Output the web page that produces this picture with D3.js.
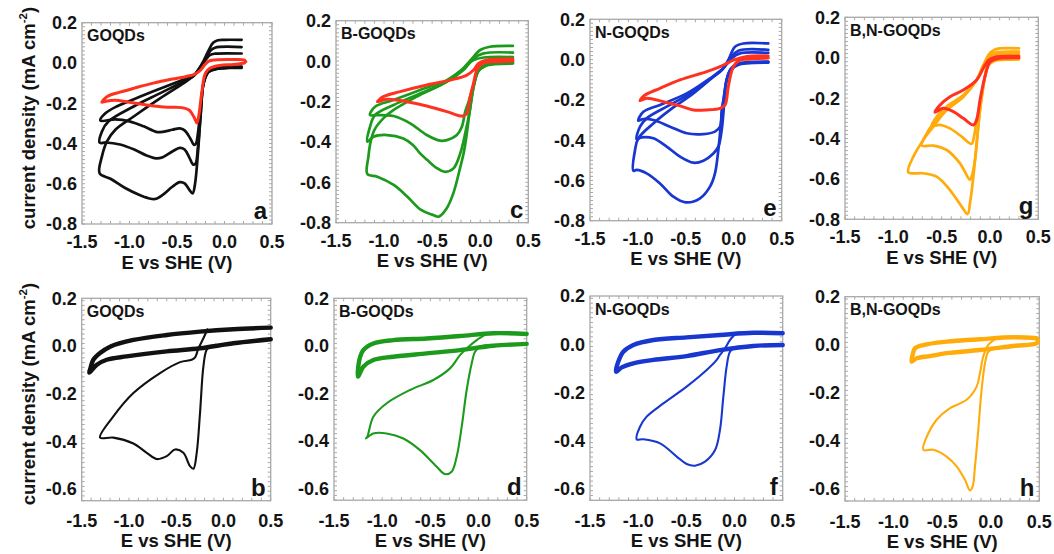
<!DOCTYPE html>
<html><head><meta charset="utf-8">
<script src="https://cdn.jsdelivr.net/npm/d3@7"></script>
<style>
body{margin:0;background:#fff}
svg text{font-family:"Liberation Sans",Arial,sans-serif;font-weight:bold;fill:#141414}
</style>
</head><body>
<svg id="chart" width="1054" height="554"></svg>
<script>
// ---------------- tick labels ----------------
const xTicks = [-1.5, -1.0, -0.5, 0.0, 0.5];
const yTicksTop = [0.2, 0.0, -0.2, -0.4, -0.6, -0.8];
const yTicksBottom = [0.2, 0.0, -0.2, -0.4, -0.6];
const panelNames = ["GOQDs", "B-GOQDs", "N-GOQDs", "B,N-GOQDs"];
const panelLetters = ["a", "c", "e", "g", "b", "d", "f", "h"];

// ---------------- panel a (GOQDs, black + red) ----------------
const a3Cath = [[0.18,-0.025],[0.05,-0.025],[-0.08,-0.03],[-0.17,-0.045],[-0.22,-0.1],[-0.25,-0.25],[-0.28,-0.45],[-0.31,-0.6],[-0.335,-0.648],[-0.37,-0.63],[-0.42,-0.598],[-0.47,-0.592],[-0.55,-0.615],[-0.65,-0.655],[-0.73,-0.676],[-0.8,-0.672],[-0.9,-0.655],[-1.05,-0.62],[-1.2,-0.575],[-1.314,-0.549]];
const a3Anod = [[-1.314,-0.549],[-1.29,-0.464],[-1.237,-0.39],[-1.149,-0.332],[-0.956,-0.266],[-0.675,-0.175],[-0.43,-0.1],[-0.325,-0.064],[-0.27,-0.03],[-0.22,0.01],[-0.17,0.06],[-0.12,0.1],[-0.07,0.113],[0.0,0.115],[0.18,0.115]];
const a2Cath = [[0.18,-0.02],[0.05,-0.022],[-0.08,-0.028],[-0.17,-0.045],[-0.22,-0.1],[-0.25,-0.25],[-0.28,-0.42],[-0.305,-0.5],[-0.33,-0.505],[-0.37,-0.47],[-0.42,-0.43],[-0.47,-0.422],[-0.55,-0.44],[-0.65,-0.468],[-0.72,-0.474],[-0.82,-0.46],[-0.95,-0.43],[-1.1,-0.405],[-1.25,-0.395],[-1.314,-0.396]];
const a2Anod = [[-1.314,-0.396],[-1.29,-0.34],[-1.22,-0.29],[-0.956,-0.216],[-0.675,-0.15],[-0.43,-0.092],[-0.325,-0.064],[-0.27,-0.03],[-0.2,0.02],[-0.15,0.06],[-0.1,0.076],[0.18,0.079]];
const a1Cath = [[0.18,-0.018],[0.05,-0.02],[-0.08,-0.026],[-0.17,-0.045],[-0.22,-0.1],[-0.25,-0.22],[-0.28,-0.35],[-0.3,-0.4],[-0.32,-0.407],[-0.36,-0.375],[-0.42,-0.335],[-0.47,-0.325],[-0.55,-0.332],[-0.65,-0.342],[-0.72,-0.342],[-0.85,-0.315],[-1.0,-0.29],[-1.15,-0.28],[-1.307,-0.286]];
const a1Anod = [[-1.307,-0.286],[-1.254,-0.25],[-1.13,-0.215],[-0.886,-0.167],[-0.605,-0.114],[-0.395,-0.076],[-0.325,-0.064],[-0.27,-0.035],[-0.2,0.015],[-0.15,0.04],[-0.1,0.046],[0.18,0.047]];
const a0Cath = [[0.21,0.0],[0.1,-0.008],[-0.05,-0.012],[-0.15,-0.025],[-0.2,-0.05],[-0.24,-0.15],[-0.27,-0.26],[-0.29,-0.298],[-0.32,-0.27],[-0.37,-0.235],[-0.45,-0.222],[-0.6,-0.22],[-0.8,-0.21],[-1.0,-0.195],[-1.15,-0.185],[-1.25,-0.19],[-1.29,-0.195]];
const a0Anod = [[-1.29,-0.195],[-1.23,-0.165],[-1.1,-0.145],[-0.95,-0.125],[-0.75,-0.1],[-0.55,-0.08],[-0.4,-0.067],[-0.31,-0.055],[-0.25,-0.035],[-0.21,-0.01],[-0.17,0.008],[-0.1,0.015],[0.1,0.017],[0.21,0.014],[0.225,0.006]];

// ---------------- panel c (B-GOQDs, green + red) ----------------
const c3Cath = [[0.34,-0.012],[0.15,-0.015],[0.05,-0.025],[-0.02,-0.05],[-0.07,-0.13],[-0.11,-0.25],[-0.14,-0.36],[-0.17,-0.45],[-0.21,-0.53],[-0.28,-0.655],[-0.35,-0.73],[-0.43,-0.77],[-0.5,-0.76],[-0.62,-0.735],[-0.76,-0.67],[-0.9,-0.613],[-1.07,-0.572],[-1.174,-0.559]];
const c3Anod = [[-1.174,-0.559],[-1.163,-0.473],[-1.14,-0.4],[-1.1,-0.34],[-1.0,-0.28],[-0.9,-0.242],[-0.66,-0.176],[-0.38,-0.11],[-0.21,-0.052],[-0.1,0.005],[0.0,0.055],[0.1,0.071],[0.34,0.075]];
const c2Cath = [[0.34,-0.01],[0.15,-0.013],[0.05,-0.022],[-0.02,-0.05],[-0.07,-0.13],[-0.11,-0.25],[-0.156,-0.358],[-0.208,-0.457],[-0.278,-0.531],[-0.365,-0.548],[-0.45,-0.53],[-0.55,-0.49],[-0.625,-0.457],[-0.7,-0.415],[-0.8,-0.383],[-0.97,-0.366],[-1.11,-0.374],[-1.174,-0.399]];
const c2Anod = [[-1.174,-0.399],[-1.146,-0.325],[-1.094,-0.267],[-0.9,-0.217],[-0.625,-0.16],[-0.347,-0.102],[-0.174,-0.044],[-0.069,0.013],[0.035,0.038],[0.34,0.042]];
const c1Cath = [[0.34,-0.008],[0.15,-0.01],[0.05,-0.02],[-0.02,-0.045],[-0.07,-0.12],[-0.12,-0.2],[-0.156,-0.25],[-0.191,-0.325],[-0.243,-0.366],[-0.347,-0.391],[-0.417,-0.394],[-0.556,-0.366],[-0.729,-0.308],[-0.903,-0.272],[-1.076,-0.267],[-1.146,-0.267]];
const c1Anod = [[-1.146,-0.267],[-1.094,-0.226],[-0.903,-0.193],[-0.625,-0.143],[-0.347,-0.094],[-0.174,-0.036],[-0.069,0.005],[0.035,0.018],[0.34,0.02]];
const c0Cath = [[0.34,0.0],[0.15,-0.003],[0.07,-0.005],[0.0,-0.02],[-0.035,-0.044],[-0.07,-0.11],[-0.104,-0.176],[-0.139,-0.259],[-0.17,-0.27],[-0.208,-0.272],[-0.347,-0.25],[-0.556,-0.222],[-0.764,-0.201],[-0.972,-0.189],[-1.069,-0.201]];
const c0Anod = [[-1.069,-0.201],[-1.007,-0.176],[-0.833,-0.151],[-0.556,-0.118],[-0.313,-0.094],[-0.139,-0.069],[-0.069,-0.044],[-0.017,-0.012],[0.07,0.005],[0.34,0.01]];

// ---------------- panel e (N-GOQDs, blue + red) ----------------
const e3Cath = [[0.36,-0.015],[0.15,-0.018],[0.05,-0.025],[-0.03,-0.05],[-0.074,-0.101],[-0.126,-0.283],[-0.161,-0.449],[-0.196,-0.565],[-0.248,-0.631],[-0.352,-0.689],[-0.502,-0.709],[-0.63,-0.681],[-0.77,-0.615],[-0.909,-0.565],[-1.013,-0.548],[-1.048,-0.552]];
const e3Anod = [[-1.048,-0.552],[-1.03,-0.449],[-0.996,-0.391],[-0.839,-0.317],[-0.665,-0.25],[-0.422,-0.168],[-0.213,-0.085],[-0.126,-0.052],[-0.057,-0.002],[0.013,0.064],[0.1,0.08],[0.36,0.08]];
const e2Cath = [[0.36,-0.013],[0.15,-0.016],[0.05,-0.022],[-0.03,-0.05],[-0.074,-0.1],[-0.1,-0.22],[-0.126,-0.35],[-0.161,-0.432],[-0.213,-0.466],[-0.317,-0.502],[-0.422,-0.512],[-0.561,-0.482],[-0.7,-0.432],[-0.839,-0.391],[-0.961,-0.386],[-1.013,-0.396]];
const e2Anod = [[-1.013,-0.396],[-0.978,-0.333],[-0.909,-0.292],[-0.665,-0.225],[-0.422,-0.159],[-0.213,-0.085],[-0.109,-0.043],[-0.039,0.006],[0.048,0.044],[0.36,0.048]];
const e1Cath = [[0.36,-0.01],[0.15,-0.013],[0.05,-0.02],[-0.03,-0.045],[-0.074,-0.1],[-0.1,-0.18],[-0.126,-0.25],[-0.143,-0.333],[-0.196,-0.358],[-0.317,-0.37],[-0.491,-0.366],[-0.665,-0.333],[-0.839,-0.3],[-0.943,-0.295],[-0.996,-0.303]];
const e1Anod = [[-0.996,-0.303],[-0.943,-0.259],[-0.77,-0.225],[-0.491,-0.168],[-0.248,-0.093],[-0.109,-0.043],[-0.022,0.006],[0.065,0.031],[0.36,0.033]];
const e0Cath = [[0.36,0.008],[0.15,0.002],[0.065,-0.003],[-0.004,-0.035],[-0.057,-0.134],[-0.091,-0.225],[-0.143,-0.242],[-0.283,-0.25],[-0.422,-0.25],[-0.561,-0.23],[-0.735,-0.209],[-0.909,-0.192],[-0.978,-0.204]];
const e0Anod = [[-0.978,-0.204],[-0.926,-0.176],[-0.77,-0.143],[-0.561,-0.101],[-0.283,-0.06],[-0.143,-0.035],[-0.074,-0.019],[-0.004,-0.003],[0.135,0.015],[0.36,0.018]];

// ---------------- panel g (B,N-GOQDs, orange + red) ----------------
const g3Cath = [[0.3,-0.008],[0.15,-0.01],[0.05,-0.015],[-0.02,-0.04],[-0.052,-0.094],[-0.103,-0.259],[-0.138,-0.424],[-0.172,-0.589],[-0.207,-0.721],[-0.231,-0.774],[-0.293,-0.737],[-0.414,-0.655],[-0.552,-0.589],[-0.69,-0.572],[-0.845,-0.567]];
const g3Anod = [[-0.845,-0.567],[-0.793,-0.49],[-0.69,-0.407],[-0.586,-0.341],[-0.448,-0.259],[-0.276,-0.193],[-0.138,-0.11],[-0.069,-0.044],[-0.017,0.013],[0.052,0.041],[0.3,0.046]];
const g2Cath = [[0.3,-0.006],[0.15,-0.008],[0.05,-0.013],[-0.02,-0.04],[-0.052,-0.094],[-0.103,-0.259],[-0.121,-0.341],[-0.155,-0.506],[-0.19,-0.589],[-0.207,-0.605],[-0.31,-0.523],[-0.448,-0.457],[-0.586,-0.435],[-0.707,-0.435]];
const g2Anod = [[-0.707,-0.435],[-0.672,-0.391],[-0.586,-0.325],[-0.448,-0.259],[-0.276,-0.193],[-0.138,-0.11],[-0.069,-0.036],[0.0,0.015],[0.086,0.028],[0.3,0.03]];
const g1Cath = [[0.3,-0.004],[0.15,-0.006],[0.05,-0.01],[-0.02,-0.035],[-0.052,-0.094],[-0.1,-0.22],[-0.138,-0.308],[-0.172,-0.407],[-0.19,-0.427],[-0.293,-0.391],[-0.414,-0.35],[-0.517,-0.333],[-0.603,-0.338]];
const g1Anod = [[-0.603,-0.338],[-0.552,-0.292],[-0.448,-0.242],[-0.276,-0.185],[-0.138,-0.11],[-0.069,-0.044],[0.0,0.003],[0.103,0.017],[0.3,0.018]];
const g0Cath = [[0.3,0.0],[0.069,-0.005],[0.0,-0.021],[-0.052,-0.094],[-0.103,-0.209],[-0.138,-0.308],[-0.172,-0.333],[-0.276,-0.3],[-0.379,-0.267],[-0.483,-0.25],[-0.569,-0.27]];
const g0Anod = [[-0.569,-0.27],[-0.517,-0.234],[-0.414,-0.193],[-0.276,-0.16],[-0.138,-0.11],[-0.069,-0.052],[-0.017,-0.013],[0.052,0.003],[0.3,0.007]];

// ---------------- bottom row: background loop (thick) + O2 loop (thin) ----------------
const bBase = [[0.5,0.077],[0.105,0.07],[-0.248,0.06],[-0.6,0.046],[-0.953,0.025],[-1.2,-0.003],[-1.306,-0.03],[-1.377,-0.058],[-1.405,-0.09],[-1.42,-0.112],[-1.34,-0.079],[-1.235,-0.058],[-1.024,-0.044],[-0.6,-0.023],[-0.248,-0.01],[0.105,0.011],[0.5,0.028]];
const bORR = [[-0.17,0.07],[-0.212,0.032],[-0.265,-0.01],[-0.3,-0.048],[-0.336,-0.058],[-0.459,-0.068],[-0.671,-0.114],[-0.953,-0.198],[-1.165,-0.296],[-1.306,-0.385],[-1.165,-0.385],[-0.953,-0.41],[-0.812,-0.449],[-0.706,-0.475],[-0.6,-0.463],[-0.512,-0.435],[-0.424,-0.449],[-0.354,-0.505],[-0.318,-0.516],[-0.283,-0.449],[-0.248,-0.282],[-0.212,-0.086],[-0.177,-0.016],[-0.124,0.0],[-0.08,0.005]];
const dBase = [[0.5,0.05],[0.154,0.053],[-0.192,0.041],[-0.538,0.031],[-0.884,0.024],[-1.092,0.01],[-1.196,-0.018],[-1.237,-0.06],[-1.25,-0.13],[-1.196,-0.088],[-1.092,-0.06],[-0.884,-0.046],[-0.538,-0.032],[-0.192,-0.018],[0.154,0.0],[0.5,0.008]];
const dORR = [[0.085,0.05],[-0.019,0.024],[-0.123,-0.011],[-0.192,-0.039],[-0.296,-0.095],[-0.469,-0.144],[-0.711,-0.186],[-0.953,-0.242],[-1.092,-0.299],[-1.154,-0.383],[-1.168,-0.39],[-1.092,-0.369],[-0.953,-0.369],[-0.78,-0.39],[-0.607,-0.439],[-0.434,-0.509],[-0.348,-0.54],[-0.279,-0.53],[-0.227,-0.467],[-0.175,-0.341],[-0.123,-0.186],[-0.071,-0.074],[-0.036,-0.025],[0.015,-0.004],[0.085,0.003]];
const fBase = [[0.5,0.045],[0.195,0.047],[-0.151,0.038],[-0.497,0.028],[-0.843,0.017],[-1.05,-0.004],[-1.154,-0.032],[-1.206,-0.073],[-1.23,-0.115],[-1.171,-0.097],[-1.05,-0.08],[-0.843,-0.066],[-0.497,-0.05],[-0.151,-0.025],[0.195,-0.008],[0.5,-0.004]];
const fORR = [[0.06,0.047],[0.022,0.045],[-0.047,0.017],[-0.099,-0.018],[-0.151,-0.045],[-0.185,-0.066],[-0.289,-0.108],[-0.497,-0.177],[-0.739,-0.247],[-0.912,-0.302],[-0.981,-0.344],[-1.016,-0.396],[-0.946,-0.396],[-0.773,-0.413],[-0.6,-0.468],[-0.497,-0.499],[-0.41,-0.506],[-0.306,-0.489],[-0.202,-0.441],[-0.151,-0.357],[-0.116,-0.219],[-0.082,-0.094],[-0.047,-0.032],[0.005,-0.014],[0.06,-0.012]];
const hBase = [[0.473,0.027],[0.232,0.031],[-0.111,0.023],[-0.454,0.013],[-0.694,-0.001],[-0.78,-0.015],[-0.804,-0.042],[-0.814,-0.07],[-0.762,-0.056],[-0.625,-0.047],[-0.454,-0.035],[-0.111,-0.022],[0.232,-0.005],[0.473,0.006],[0.485,0.017],[0.473,0.027]];
const hORR = [[0.058,0.027],[-0.027,-0.001],[-0.077,-0.049],[-0.111,-0.119],[-0.145,-0.174],[-0.248,-0.229],[-0.419,-0.264],[-0.557,-0.312],[-0.642,-0.368],[-0.694,-0.437],[-0.59,-0.437],[-0.454,-0.465],[-0.351,-0.506],[-0.265,-0.562],[-0.214,-0.606],[-0.186,-0.589],[-0.162,-0.506],[-0.128,-0.354],[-0.094,-0.188],[-0.059,-0.077],[-0.025,-0.029],[0.044,-0.015],[0.08,-0.012]];

// ---------------- colours & layout ----------------
const BLACK = "#111111", GREEN = "#1c9a1c", BLUE = "#1836d0", ORANGE = "#ffab0a", RED = "#ff3220";

const panels = [
  {letter:panelLetters[0], name:panelNames[0], box:{l:82, r:272, t:22.7, b:224}, yDom:[-0.8,0.2], yT:yTicksTop, yTitle:true,
   curves:[[a3Cath,a3Anod,BLACK],[a2Cath,a2Anod,BLACK],[a1Cath,a1Anod,BLACK],[a0Cath,a0Anod,RED]]},
  {letter:panelLetters[1], name:panelNames[1], box:{l:336, r:528.3, t:20.7, b:222.7}, yDom:[-0.8,0.2], yT:yTicksTop,
   curves:[[c3Cath,c3Anod,GREEN],[c2Cath,c2Anod,GREEN],[c1Cath,c1Anod,GREEN],[c0Cath,c0Anod,RED]]},
  {letter:panelLetters[2], name:panelNames[2], box:{l:590, r:781.7, t:19.3, b:220.7}, yDom:[-0.8,0.2], yT:yTicksTop,
   curves:[[e3Cath,e3Anod,BLUE],[e2Cath,e2Anod,BLUE],[e1Cath,e1Anod,BLUE],[e0Cath,e0Anod,RED]]},
  {letter:panelLetters[3], name:panelNames[3], box:{l:845, r:1038.3, t:17.3, b:219.3}, yDom:[-0.8,0.2], yT:yTicksTop,
   curves:[[g3Cath,g3Anod,ORANGE],[g2Cath,g2Anod,ORANGE],[g1Cath,g1Anod,ORANGE],[g0Cath,g0Anod,RED]]},
  {letter:panelLetters[4], name:panelNames[0], box:{l:81.7, r:270.7, t:298.3, b:500.7}, yDom:[-0.65,0.2], yT:yTicksBottom, yTitle:true, bottom:true,
   base:bBase, orr:bORR, color:BLACK},
  {letter:panelLetters[5], name:panelNames[1], box:{l:334, r:526.7, t:298.3, b:500.2}, yDom:[-0.65,0.2], yT:yTicksBottom, bottom:true,
   base:dBase, orr:dORR, color:GREEN},
  {letter:panelLetters[6], name:panelNames[2], box:{l:590, r:782.7, t:296, b:500.3}, yDom:[-0.65,0.2], yT:yTicksBottom, bottom:true,
   base:fBase, orr:fORR, color:BLUE},
  {letter:panelLetters[7], name:panelNames[3], box:{l:845, r:1039.3, t:296.7, b:501}, yDom:[-0.65,0.2], yT:yTicksBottom, bottom:true,
   base:hBase, orr:hORR, color:ORANGE}
];

const svg = d3.select("#chart");
const fmt = v => v.toFixed(1);
const FRAME = "#a8a8a8";

panels.forEach(p => {
  const B = p.box;
  const x = d3.scaleLinear().domain([-1.5, 0.5]).range([B.l, B.r]);
  const y = d3.scaleLinear().domain(p.yDom).range([B.b, B.t]);
  const g = svg.append("g");

  // frame
  g.append("rect").attr("x", B.l).attr("y", B.t).attr("width", B.r - B.l).attr("height", B.b - B.t)
    .attr("fill", "none").attr("stroke", FRAME).attr("stroke-width", 1.3);

  // minor ticks (inside, all four sides)
  const xMinor = d3.range(-1.5, 0.5001, 0.1);
  const yMinor = d3.range(p.yDom[0], p.yDom[1] + 0.0001, 0.02);
  const tk = g.append("g").attr("stroke", FRAME).attr("stroke-width", 1);
  xMinor.forEach(v => {
    tk.append("line").attr("x1", x(v)).attr("x2", x(v)).attr("y1", B.b).attr("y2", B.b - 3);
    tk.append("line").attr("x1", x(v)).attr("x2", x(v)).attr("y1", B.t).attr("y2", B.t + 3);
  });
  yMinor.forEach(v => {
    tk.append("line").attr("x1", B.l).attr("x2", B.l + 3).attr("y1", y(v)).attr("y2", y(v));
    tk.append("line").attr("x1", B.r).attr("x2", B.r - 3).attr("y1", y(v)).attr("y2", y(v));
  });

  // tick labels
  xTicks.forEach(v => {
    g.append("text").attr("x", x(v)).attr("y", B.b + (p.bottom ? 26.5 : 24))
      .attr("text-anchor", "middle").attr("font-size", 18).text(fmt(v));
  });
  p.yT.forEach(v => {
    g.append("text").attr("x", B.l - 5).attr("y", y(v)).attr("dy", "0.36em")
      .attr("text-anchor", "end").attr("font-size", 18).text(fmt(v));
  });

  // axis titles
  g.append("text").attr("x", (B.l + B.r) / 2).attr("y", B.b + (p.bottom ? 46.5 : 44.5))
    .attr("text-anchor", "middle").attr("font-size", 18.5).text("E vs SHE (V)");
  if (p.yTitle) {
    const cy = p.bottom ? 394 : 118;
    const t = g.append("text").attr("transform", `translate(35,${cy}) rotate(-90)`)
      .attr("text-anchor", "middle").attr("font-size", 18.5);
    t.append("tspan").text("current density (mA cm");
    t.append("tspan").attr("font-size", 11.5).attr("dy", -8).text("-2");
    t.append("tspan").attr("dy", 8).text(")");
  }

  // panel name & letter
  g.append("text").attr("x", B.l + 5).attr("y", B.t + 18.5).attr("font-size", 16).text(p.name);
  g.append("text").attr("x", B.r - 5).attr("y", B.b - 5).attr("text-anchor", "end")
    .attr("font-size", 24).text(p.letter);

  const line = d3.line().x(d => x(d[0])).y(d => y(d[1])).curve(d3.curveCatmullRom.alpha(0.5));
  const cg = g.append("g").attr("fill", "none").attr("stroke-linejoin", "round").attr("stroke-linecap", "round");

  if (p.curves) {
    p.curves.forEach(([cath, anod, col]) => {
      cg.append("path").attr("d", line(cath.concat(anod.slice(1))))
        .attr("stroke", col).attr("stroke-width", col === RED ? 3 : 2.7);
    });
  } else {
    cg.append("path").attr("d", line(p.base)).attr("stroke", p.color).attr("stroke-width", 4.4);
    cg.append("path").attr("d", line(p.orr)).attr("stroke", p.color).attr("stroke-width", 2.1);
  }
});
</script>
</body></html>
